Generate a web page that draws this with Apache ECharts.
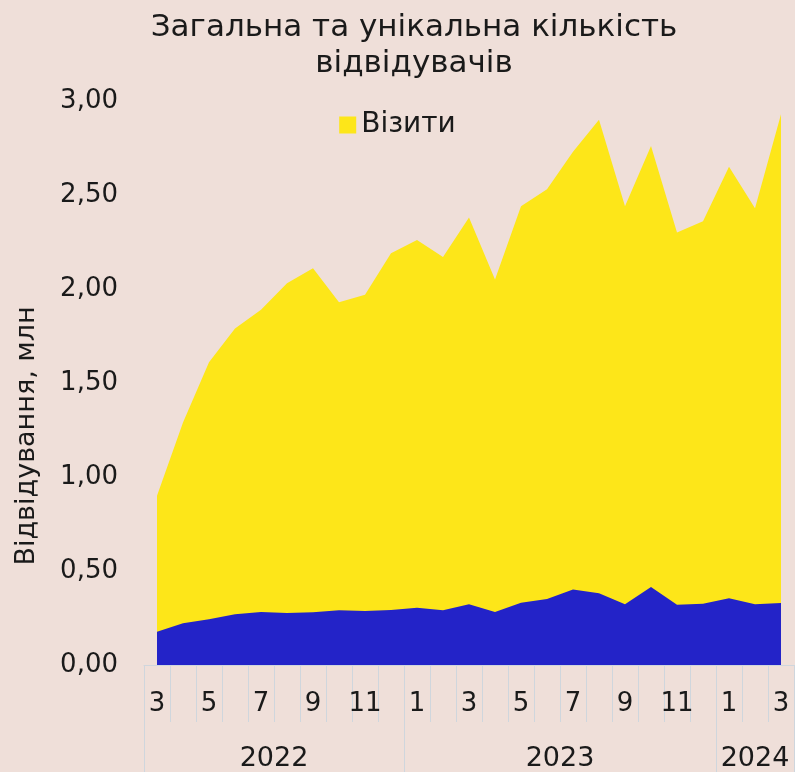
<!DOCTYPE html>
<html>
<head>
<meta charset="utf-8">
<script src="https://cdn.jsdelivr.net/npm/echarts@6/dist/echarts.min.js"></script>
<style>
html,body{margin:0;padding:0;background:#EFDFD9;}
#chart{width:795px;height:772px;}
</style>
</head>
<body>
<div id="chart"></div>
<script>
// Data
const months = ['3','4','5','6','7','8','9','10','11','12','1','2','3','4','5','6','7','8','9','10','11','12','1','2','3'];
const years = ['2022','2023','2024'];
const yearCounts = [10, 12, 3];
const visits = [0.90,1.29,1.61,1.79,1.89,2.03,2.11,1.93,1.97,2.19,2.26,2.17,2.38,2.05,2.44,2.53,2.73,2.90,2.44,2.76,2.30,2.36,2.65,2.43,2.93];
const unique = [0.177,0.222,0.243,0.270,0.282,0.277,0.280,0.291,0.287,0.293,0.305,0.291,0.323,0.282,0.331,0.351,0.401,0.381,0.323,0.415,0.321,0.326,0.355,0.323,0.330];
const yTicks = ['0,00','0,50','1,00','1,50','2,00','2,50','3,00'];
const titleText = 'Загальна та унікальна кількість\nвідвідувачів';
const yName = 'Відвідування, млн';
const seriesNames = ['Візити', 'Унікальні відвідувачі'];

// year boundaries & centres derived from counts
const yearBounds = [0];
const yearCenters = [];
yearCounts.forEach((c, i) => {
  const start = yearBounds[yearBounds.length - 1];
  yearCenters.push(start + c / 2);
  yearBounds.push(start + c);
});

const FONT = 'DejaVu Sans';
const TXT = '#1a1a1a';
const chart = echarts.init(document.getElementById('chart'));
chart.setOption({
  backgroundColor: '#EFDFD9',
  animation: false,
  textStyle: { fontFamily: FONT },
  title: {
    text: titleText,
    left: 409, top: 5, textAlign: 'center',
    textStyle: { fontFamily: FONT, fontSize: 31, fontWeight: 'normal', color: TXT, lineHeight: 36, align: 'center' }
  },
  legend: {
    data: [seriesNames[0]],
    top: 106, left: 'center',
    icon: 'rect', itemWidth: 17, itemHeight: 17, itemGap: 6,
    textStyle: { fontFamily: FONT, fontSize: 28, color: TXT }
  },
  grid: { left: 144, right: 1, top: 101, bottom: 107, containLabel: false },
  xAxis: [
    {
      type: 'category', data: months, boundaryGap: true,
      axisLine: { show: true, lineStyle: { color: '#CFD6DD', width: 1 } },
      axisTick: { show: true, interval: 0, length: 57, lineStyle: { color: '#CFD6DD' } },
      axisLabel: { interval: 1, margin: 26, fontFamily: FONT, fontSize: 26, color: TXT },
      splitLine: { show: false }
    },
    {
      type: 'value', min: 0, max: yearBounds[yearBounds.length - 1], position: 'bottom', offset: 0,
      axisLine: { show: false },
      axisTick: { show: true, customValues: yearBounds, length: 107, lineStyle: { color: '#CFD6DD' } },
      axisLabel: {
        customValues: yearCenters, margin: 80, fontFamily: FONT, fontSize: 27, color: TXT,
        formatter: (v) => years[yearCenters.indexOf(v)]
      },
      splitLine: { show: false }
    }
  ],
  yAxis: {
    type: 'value', min: 0, max: 3, interval: 0.5,
    name: yName, nameLocation: 'middle', nameGap: 104, nameRotate: 90,
    nameTextStyle: { fontFamily: FONT, fontSize: 27, color: TXT, padding: [0, 106, 0, 0] },
    axisLine: { show: false }, axisTick: { show: false },
    splitLine: { show: false },
    axisLabel: {
      margin: 26, fontFamily: FONT, fontSize: 26, color: TXT, padding: [5, 0, 0, 0],
      formatter: (v) => yTicks[Math.round(v / 0.5)]
    }
  },
  series: [
    {
      name: seriesNames[0], type: 'line', data: visits, xAxisIndex: 0,
      symbol: 'none', lineStyle: { width: 0 },
      areaStyle: { color: '#FDE619', opacity: 1 }, itemStyle: { color: '#FDE619' }
    },
    {
      name: seriesNames[1], type: 'line', data: unique, xAxisIndex: 0,
      symbol: 'none', lineStyle: { width: 0 },
      areaStyle: { color: '#2323C8', opacity: 1 }, itemStyle: { color: '#2323C8' }
    }
  ]
});
</script>
</body>
</html>
